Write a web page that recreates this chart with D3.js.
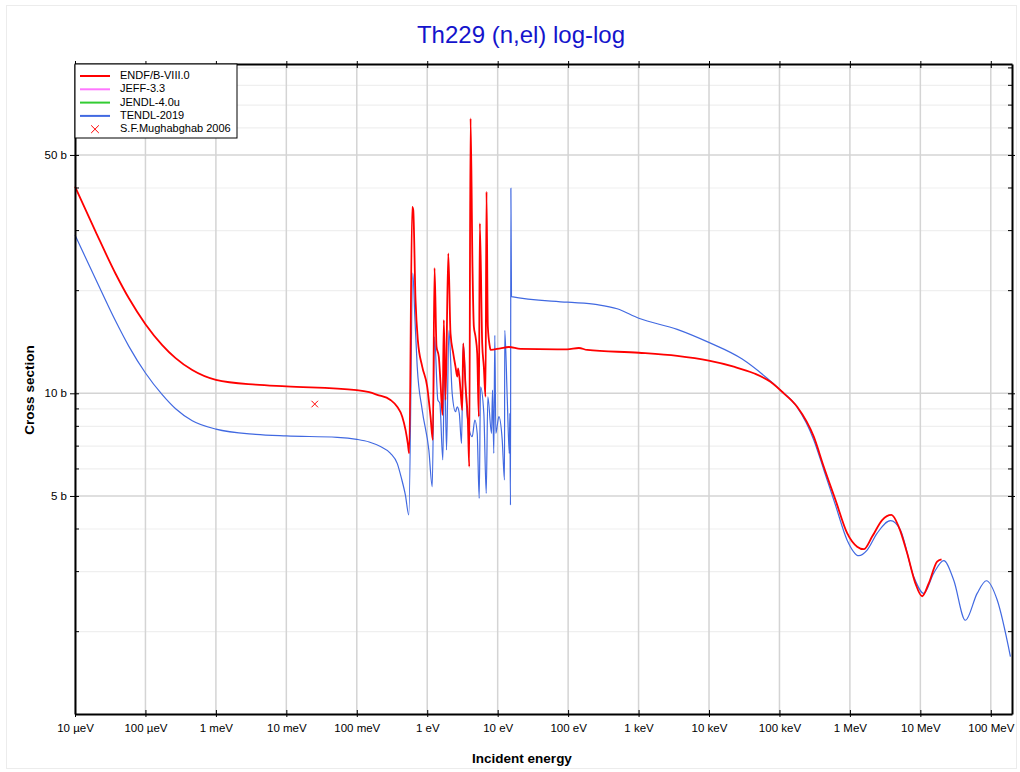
<!DOCTYPE html>
<html>
<head>
<meta charset="utf-8">
<script src="https://cdn.jsdelivr.net/npm/d3@7"></script>
<style>
  body { margin: 0; background: #fff; }
  svg { display: block; font-family: "Liberation Sans", Arial, sans-serif; }
</style>
</head>
<body>
<div id="chart"></div>
<script>
// ── Data (energy in eV, cross section in barns) ───────────────────────────
const endfData = [
  [1e-5, 40.4], [1.96e-5, 29.8], [3.77e-5, 22.42], [5.82e-5, 18.99], [1.0e-4, 15.95],
  [1.73e-4, 13.85], [2.68e-4, 12.68], [4.62e-4, 11.7], [1e-3, 10.95], [3.66e-3, 10.6],
  [1e-2, 10.48], [0.1, 10.22], [0.15, 10.08], [0.195, 9.9], [0.301, 9.56], [0.375, 9.13],
  [0.442, 8.54], [0.492, 7.81],
  [0.530, 7.13], [0.555, 6.67], [0.612, 35.2], [0.633, 34.5], [0.682, 18.8], [0.736, 14.3],
  [0.849, 11.97], [1.0, 10.45], [1.114, 8.54], [1.20, 7.30], [1.27, 23.3], [1.355, 13.7],
  [1.46, 12.8], [1.545, 10.7], [1.649, 8.64], [1.72, 16.4], [1.82, 9.56], [1.99, 25.7],
  [2.14, 15.0], [2.34, 13.1], [2.52, 11.97], [2.67, 11.2], [2.75, 11.84], [2.97, 10.22],
  [3.14, 8.93], [3.24, 14.0], [3.50, 10.45], [3.77, 8.35], [3.95, 6.09], [4.12, 64.0],
  [4.39, 23.5], [4.59, 15.7], [4.85, 14.65], [5.12, 13.1], [5.40, 8.54], [5.58, 31.5],
  [6.03, 14.0], [6.36, 11.97], [6.72, 9.77], [6.94, 39.0], [7.25, 15.7], [7.74, 13.7],
  [7.91, 13.4], [10.97, 13.55], [14.4, 13.67], [21.1, 13.49], [97, 13.45], [142, 13.58],
  [187, 13.4], [1008, 13.15], [3532, 12.87], [9930, 12.46], [22440, 11.97], [43150, 11.45],
  [74470, 10.81], [1.15e5, 10.0], [1.783e5, 9.13], [3.069e5, 7.46], [4.256e5, 6.09],
  [6.237e5, 4.87], [9.14e5, 3.89], [1.267e6, 3.55], [1.571e6, 3.49], [2.07e6, 3.80],
  [2.87e6, 4.25], [3.89e6, 4.40], [4.94e6, 4.06], [6.49e6, 3.40], [8.51e6, 2.77],
  [1.06e7, 2.54], [1.315e7, 2.77], [1.73e7, 3.21], [2.0e7, 3.26]
];

const tendlData = [
  [1e-5, 29.1], [1.96e-5, 21.64], [3.77e-5, 16.29], [5.82e-5, 13.73], [1.0e-4, 11.47],
  [1.73e-4, 9.91], [2.68e-4, 9.01], [4.62e-4, 8.31], [1e-3, 7.85], [3.66e-3, 7.58],
  [1e-2, 7.5], [0.0528, 7.43], [0.1, 7.33], [0.15, 7.2], [0.217, 6.98], [0.301, 6.67],
  [0.375, 6.23], [0.43, 5.64], [0.49, 5.03], [0.548, 4.40],
  [0.625, 22.5], [0.667, 16.8], [0.721, 11.97], [0.849, 8.93], [1.054, 6.82], [1.178, 5.32],
  [1.27, 14.65], [1.414, 9.56], [1.51, 9.35], [1.665, 6.38], [1.76, 12.5], [1.88, 6.82],
  [2.03, 15.3], [2.26, 10.0], [2.52, 8.83], [2.67, 9.13], [2.85, 8.74], [3.07, 7.13],
  [3.24, 14.0], [3.70, 8.54], [4.35, 7.46], [4.74, 8.35], [5.12, 7.63], [5.47, 4.92],
  [5.71, 10.45], [6.36, 8.74], [6.88, 5.09], [7.25, 9.77], [8.18, 7.63], [8.45, 10.22],
  [8.81, 6.67], [9.11, 14.8], [9.41, 7.63], [10.4, 8.54], [11.6, 7.30], [12.5, 5.57],
  [12.6, 15.3], [13.7, 9.56], [14.6, 6.67], [14.9, 8.74], [15.2, 4.70], [15.4, 39.9],
  [15.7, 19.2], [97, 18.5], [259, 18.2], [497, 17.7], [1008, 16.6], [3532, 15.4],
  [9930, 14.1], [29580, 12.6], [66830, 11.07], [1.033e5, 10.22], [1.783e5, 9.10],
  [3.069e5, 7.30], [4.256e5, 5.97], [6.237e5, 4.70], [9.14e5, 3.71], [1.336e6, 3.34],
  [1.757e6, 3.47], [2.44e6, 3.89], [3.77e6, 4.23], [5.21e6, 3.97], [8.05e6, 2.90],
  [1.117e7, 2.59], [1.55e7, 2.97], [2.15e7, 3.23], [2.98e7, 2.83], [4.36e7, 2.16],
  [6.4e7, 2.59], [8.67e7, 2.82], [1.23e8, 2.48], [1.9e8, 1.69]
];

// S.F.Mughabghab 2006 thermal value
const expData = [[0.0253, 9.3]];

const legendNames  = ['ENDF/B-VIII.0', 'JEFF-3.3', 'JENDL-4.0u', 'TENDL-2019', 'S.F.Mughabghab 2006'];
const legendColors = ['#ff0000', '#ff77ff', '#33cc33', '#4169e1', '#ff0000'];

const xTickValues = [1e-5, 1e-4, 1e-3, 1e-2, 1e-1, 1, 10, 100, 1e3, 1e4, 1e5, 1e6, 1e7, 1e8];
const xTickLabels = ['10 µeV', '100 µeV', '1 meV', '10 meV', '100 meV', '1 eV', '10 eV',
                     '100 eV', '1 keV', '10 keV', '100 keV', '1 MeV', '10 MeV', '100 MeV'];
const yTickValues = [5, 10, 50];
const yTickLabels = ['5 b', '10 b', '50 b'];
const yMinorValues = [2, 3, 4, 6, 7, 8, 9, 20, 30, 40, 60, 70, 80, 90];

// ── Layout ──────────────────────────────────────────────────────────────────
const W = 1020, H = 772;
const M = { l: 75, r: 1012, t: 64, b: 714 };

const svg = d3.select('#chart').append('svg')
  .attr('width', W).attr('height', H);

// faint outer frame
svg.append('rect')
  .attr('x', 6.5).attr('y', 5.5).attr('width', W - 10).attr('height', H - 9)
  .attr('fill', 'none').attr('stroke', '#ececec');

const x = d3.scaleLog().domain([1e-5, 2e8]).range([M.l, M.r]);
const y = d3.scaleLog().domain([1.147, 92.4]).range([M.b, M.t]);

// ── Grid ────────────────────────────────────────────────────────────────────
const grid = svg.append('g');
grid.selectAll('.ymin').data(yMinorValues).join('line')
  .attr('x1', M.l).attr('x2', M.r)
  .attr('y1', d => y(d)).attr('y2', d => y(d))
  .attr('stroke', '#efefef').attr('stroke-width', 1.2);
grid.selectAll('.ymaj').data(yTickValues).join('line')
  .attr('x1', M.l).attr('x2', M.r)
  .attr('y1', d => y(d)).attr('y2', d => y(d))
  .attr('stroke', '#d4d4d4').attr('stroke-width', 1.5);
grid.selectAll('.xmaj').data(xTickValues).join('line')
  .attr('x1', d => x(d)).attr('x2', d => x(d))
  .attr('y1', M.t).attr('y2', M.b)
  .attr('stroke', '#d4d4d4').attr('stroke-width', 1.5);

// ── Curves ──────────────────────────────────────────────────────────────────
const line = d3.line()
  .x(d => x(d[0])).y(d => y(d[1]))
  .curve(d3.curveMonotoneX);

const plot = svg.append('g');
plot.append('path').datum(tendlData)
  .attr('d', line).attr('fill', 'none')
  .attr('stroke', legendColors[3]).attr('stroke-width', 1.2);
plot.append('path').datum(endfData)
  .attr('d', line).attr('fill', 'none')
  .attr('stroke', legendColors[0]).attr('stroke-width', 1.8);

// experimental point
plot.selectAll('.exp').data(expData).join('path')
  .attr('transform', d => `translate(${x(d[0])},${y(d[1])})`)
  .attr('d', d3.symbol(d3.symbolX, 30)())
  .attr('fill', 'none').attr('stroke', legendColors[4]).attr('stroke-width', 1);

// ── Axes ────────────────────────────────────────────────────────────────────
const fmtX = d => xTickLabels[xTickValues.indexOf(d)];
const fmtY = d => yTickLabels[yTickValues.indexOf(d)];

const axB = svg.append('g').attr('transform', `translate(0,${M.b})`)
  .call(d3.axisBottom(x).tickValues(xTickValues).tickFormat(fmtX).tickSizeOuter(0));
axB.selectAll('.tick line').attr('y1', -4).attr('y2', 3);

const axT = svg.append('g').attr('transform', `translate(0,${M.t})`)
  .call(d3.axisTop(x).tickValues(xTickValues).tickFormat('').tickSizeOuter(0));
axT.selectAll('.tick line').attr('y1', 4).attr('y2', -3);

const axL = svg.append('g').attr('transform', `translate(${M.l},0)`)
  .call(d3.axisLeft(y).tickValues(yTickValues).tickFormat(fmtY).tickSizeOuter(0));
axL.selectAll('.tick line').attr('x1', 4).attr('x2', -5);
axL.selectAll('.tick text').attr('x', -8);

const axR = svg.append('g').attr('transform', `translate(${M.r},0)`)
  .call(d3.axisRight(y).tickValues(yTickValues).tickFormat('').tickSizeOuter(0));
axR.selectAll('.tick line').attr('x1', -4).attr('x2', 3);

// minor ticks inside left/right
[M.l, M.r].forEach((px, i) => {
  svg.append('g').selectAll('line').data(yMinorValues).join('line')
    .attr('x1', px).attr('x2', i === 0 ? px + 4 : px - 4)
    .attr('y1', d => y(d)).attr('y2', d => y(d))
    .attr('stroke', '#000').attr('stroke-width', 1);
});

[axB, axT, axL, axR].forEach(a => {
  a.select('.domain').attr('stroke', '#000').attr('stroke-width', 2);
  a.selectAll('.tick line').attr('stroke', '#000').attr('stroke-width', 1);
  a.selectAll('.tick text')
    .attr('font-family', '"Liberation Sans", Arial, sans-serif')
    .attr('font-size', 11.5).attr('fill', '#000');
});
axB.selectAll('.tick text').attr('y', 10);

// ── Titles ──────────────────────────────────────────────────────────────────
svg.append('text')
  .attr('x', 521).attr('y', 43).attr('text-anchor', 'middle')
  .attr('font-size', 24).attr('fill', '#1414cc')
  .text('Th229 (n,el) log-log');

svg.append('text')
  .attr('x', 522).attr('y', 763).attr('text-anchor', 'middle')
  .attr('font-size', 13.5).attr('font-weight', 'bold')
  .text('Incident energy');

svg.append('text')
  .attr('transform', 'translate(34,390) rotate(-90)').attr('text-anchor', 'middle')
  .attr('font-size', 13.5).attr('font-weight', 'bold')
  .text('Cross section');

// ── Legend ──────────────────────────────────────────────────────────────────
const leg = svg.append('g');
leg.append('rect')
  .attr('x', M.l).attr('y', M.t).attr('width', 162).attr('height', 74)
  .attr('fill', '#fff').attr('stroke', '#000').attr('stroke-width', 1);

legendNames.forEach((name, i) => {
  const ly = 76 + i * 13.3;
  if (i < 4) {
    leg.append('line')
      .attr('x1', 80).attr('x2', 110).attr('y1', ly).attr('y2', ly)
      .attr('stroke', legendColors[i]).attr('stroke-width', 2);
  } else {
    leg.append('path')
      .attr('transform', `translate(95,${ly})`)
      .attr('d', d3.symbol(d3.symbolX, 40)())
      .attr('fill', 'none').attr('stroke', legendColors[i]).attr('stroke-width', 1);
  }
  leg.append('text')
    .attr('x', 120).attr('y', ly).attr('dominant-baseline', 'middle')
    .attr('font-size', 11).attr('fill', '#000')
    .text(name);
});
</script>
</body>
</html>
